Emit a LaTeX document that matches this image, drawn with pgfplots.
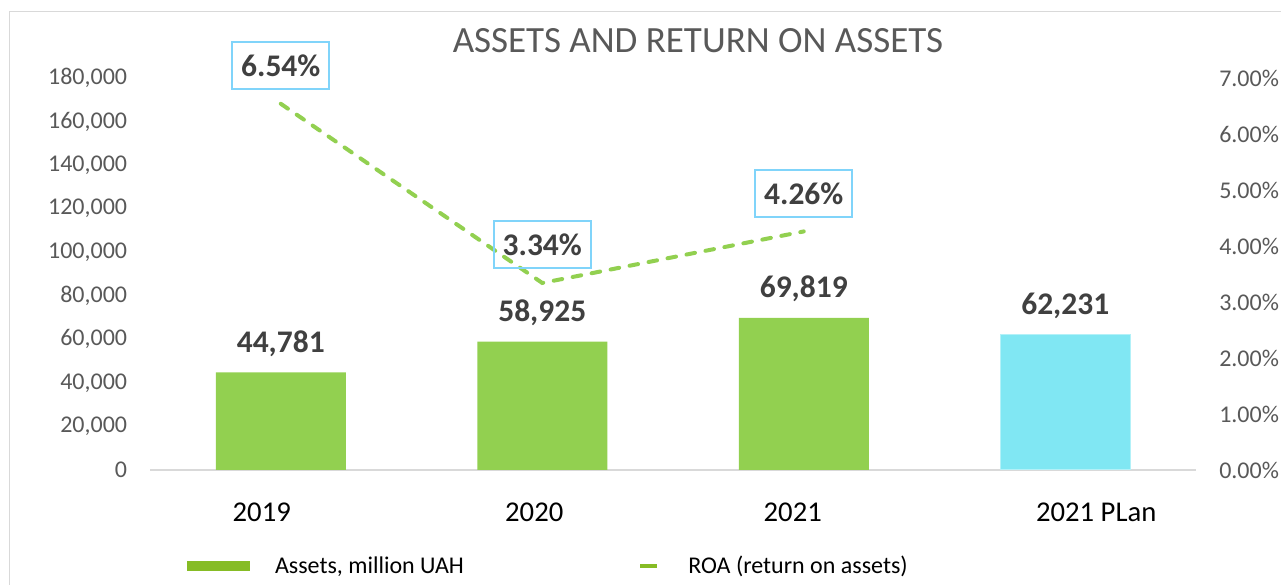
\documentclass[border=0pt]{standalone}
\usepackage{pgfplots}
\pgfplotsset{compat=1.18}
\usepackage{fontspec}
\setmainfont{Carlito}
\definecolor{barGreen}{HTML}{92D050}
\definecolor{legGreen}{HTML}{86BC25}
\definecolor{planCyan}{HTML}{80E7F3}
\definecolor{boxBlue}{HTML}{80D4FA}
\definecolor{tickGray}{HTML}{595959}
\definecolor{labelGray}{HTML}{404040}
\definecolor{lineGray}{HTML}{D9D9D9}
\pgfplotsset{/pgf/number format/assume math mode=true}

\begin{document}
\begin{tikzpicture}[x=0.75pt,y=0.75pt]
\useasboundingbox (0,0) rectangle (1281,585);
\fill[white] (0,0) rectangle (1281,585);
\draw[lineGray, line width=0.75pt] (9,0) -- (9,573) -- (1281,573);

% assets (left axis)
\begin{axis}[
  at={(112.5pt,86.25pt)}, anchor=south west,
  scale only axis, width=784.5pt, height=294pt,
  clip=false,
  xmin=-0.5, xmax=3.5, ymin=0, ymax=180000,
  axis line style={draw=none},
  major tick length=0pt,
  xtick={0,1,2,3},
  xticklabels={{\hspace*{-28.5pt}2019},{\hspace*{-12pt}2020},{\hspace*{-16.5pt}2021},{2021 PLan\hspace*{-46.5pt}}},
  xticklabel pos=bottom,
  xticklabel style={font=\fontsize{21.5}{25}\selectfont, text=black, inner sep=0pt, anchor=north, yshift=-24.75pt},
  ytick={0,20000,...,180000},
  scaled y ticks=false,
  yticklabel pos=left,
  yticklabel={\pgfmathprintnumber[fixed,precision=0,1000 sep={,}]{\tick}},
  yticklabel style={font=\fontsize{18}{21}\selectfont, text=tickGray, inner sep=0pt, xshift=-17pt},
  legend columns=2,
  legend style={at={(axis description cs:0.0354,-0.2449)}, anchor=west,
    draw=none, fill=none, inner sep=0pt, outer sep=0pt,
    font=\fontsize{18}{21}\selectfont, text=black,
    nodes={inner sep=0pt}},
]
\draw[lineGray, line width=1.5pt] (rel axis cs:0,0) -- (rel axis cs:1,0);
\addplot[ybar, bar width=97.5pt, bar shift=0pt, fill=barGreen, draw=none,
  legend image code/.code={\fill[legGreen] (0pt,-3.75pt) rectangle (47.25pt,3.75pt);
    \path[draw=none,fill=none] (0pt,-3.75pt) rectangle (66pt,3.75pt);},
  nodes near coords={\pgfmathprintnumber[fixed,precision=0,1000 sep={,}]{\pgfplotspointmeta}},
  every node near coord/.append style={font=\bfseries\fontsize{23.6}{28}\selectfont, text=labelGray,
    anchor=base, yshift=15pt, inner sep=0pt}]
  coordinates {(0,44781) (1,58925) (2,69819)};
\addlegendentry{\makebox[273.75pt][l]{Assets, million UAH}}
\addplot[ybar, bar width=97.5pt, bar shift=0pt, fill=planCyan, draw=planCyan!60!white, line width=0.75pt, forget plot,
  nodes near coords={\pgfmathprintnumber[fixed,precision=0,1000 sep={,}]{\pgfplotspointmeta}},
  every node near coord/.append style={font=\bfseries\fontsize{23.6}{28}\selectfont, text=labelGray,
    anchor=base, yshift=15pt, inner sep=0pt}]
  coordinates {(3,62231)};
\addlegendimage{legend image code/.code={\fill[legGreen] (0pt,-1.3pt) rectangle (12pt,1.3pt);
    \path[draw=none,fill=none] (0pt,-1.3pt) rectangle (36pt,1.3pt);}}
\addlegendentry{ROA (return on assets)}
\end{axis}

% ROA (right axis)
\begin{axis}[
  at={(112.5pt,86.25pt)}, anchor=south west,
  scale only axis, width=784.5pt, height=294pt,
  clip=false,
  xmin=-0.5, xmax=3.5, ymin=0, ymax=7,
  hide x axis,
  axis line style={draw=none},
  major tick length=0pt,
  ytick={0,1,...,7},
  yticklabel pos=right,
  yticklabel={\pgfmathprintnumber[fixed,fixed zerofill,precision=2]{\tick}\%},
  yticklabel style={font=\fontsize{18}{21}\selectfont, text=tickGray, inner sep=0pt, xshift=17.25pt},
]
\addplot[barGreen, line width=3pt, line cap=round, dash pattern=on 6.5pt off 8pt,
  nodes near coords={\pgfmathprintnumber[fixed,fixed zerofill,precision=2]{\pgfplotspointmeta}\%},
  every node near coord/.append style={solid, draw=boxBlue, line width=1.5pt, fill=none,
    font=\bfseries\fontsize{23.6}{28}\selectfont, text=labelGray,
    anchor=center, yshift=28.5pt, minimum width=72.75pt, minimum height=35.25pt, inner sep=0pt}]
  coordinates {(0,6.54) (1,3.34) (2,4.26)};
\end{axis}

\node[anchor=base, inner sep=0pt, font=\fontsize{27.75}{33}\selectfont, text=tickGray]
  at (698,532) {ASSETS AND RETURN ON ASSETS};
\end{tikzpicture}
\end{document}
